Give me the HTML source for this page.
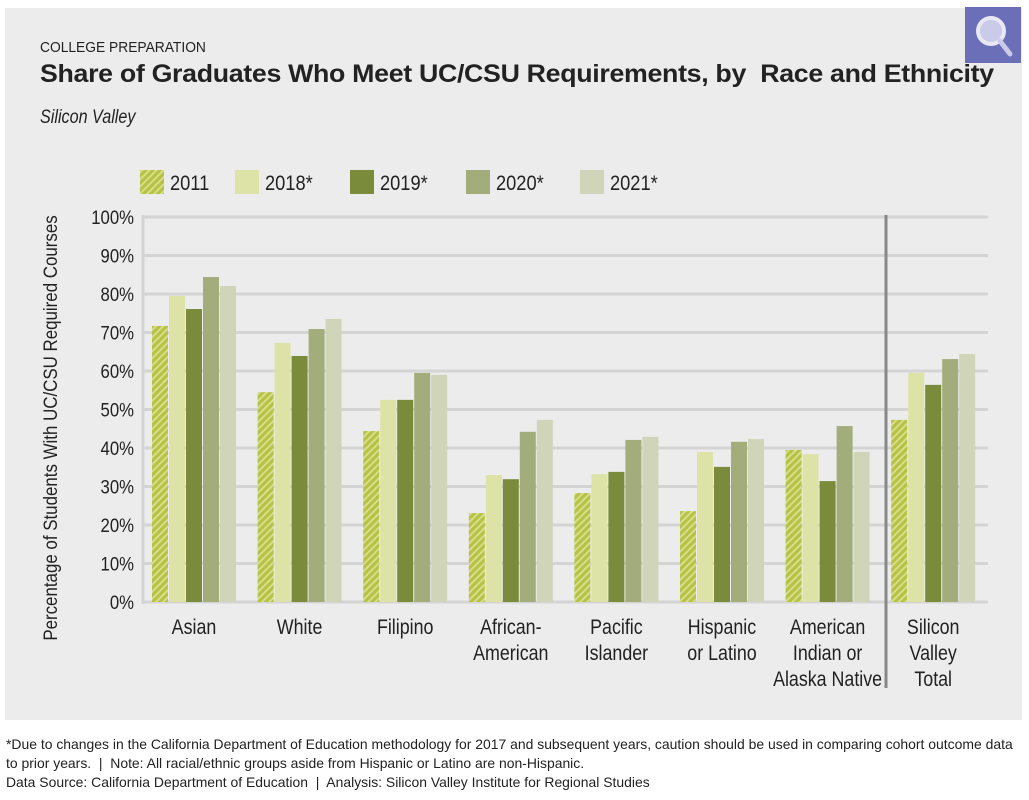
<!DOCTYPE html>
<html><head><meta charset="utf-8"><style>
body{margin:0;width:1029px;height:800px;background:#fff;font-family:"Liberation Sans",sans-serif;overflow:hidden}
#panel{position:absolute;left:5px;top:8px;width:1017px;height:712px;background:#ececec}
.t{position:absolute;white-space:nowrap;color:#222}
</style></head><body>
<div id="panel"></div>
<div class="t" style="left:40px;top:39px;font-size:15px;transform:scaleX(0.92);transform-origin:left">COLLEGE PREPARATION</div>
<div class="t" style="left:40px;top:60px;font-size:25px;font-weight:bold;letter-spacing:-0.3px;transform:scaleX(1.07);transform-origin:left">Share of Graduates Who Meet UC/CSU Requirements, by&nbsp; Race and Ethnicity</div>
<div class="t" style="left:40px;top:107px;font-size:19px;font-style:italic;transform:scaleX(0.85);transform-origin:left">Silicon Valley</div>
<div style="position:absolute;left:965px;top:7px;width:56px;height:56px;background:#6b6fb8">
<svg width="56" height="56"><circle cx="26" cy="24" r="13" fill="#c9cbe8" stroke="#e8e8f6" stroke-width="4"/><line x1="35" y1="34" x2="45" y2="47" stroke="#c9cbe8" stroke-width="5" stroke-linecap="round"/></svg></div>
<svg id="chart" width="1029" height="800" style="position:absolute;left:0;top:0">
<defs><pattern id="hatch" width="5" height="5" patternUnits="userSpaceOnUse" patternTransform="rotate(45)"><rect width="5" height="5" fill="#b5c244"/><rect width="2" height="5" fill="#d6de8a"/></pattern></defs>
</svg>
<div class="t" style="left:6px;top:735px;font-size:14px;line-height:19px;transform:scaleX(0.995);transform-origin:left">*Due to changes in the California Department of Education methodology for 2017 and subsequent years, caution should be used in comparing cohort outcome data<br>to prior years.&nbsp; |&nbsp; Note: All racial/ethnic groups aside from Hispanic or Latino are non-Hispanic.<br>Data Source: California Department of Education&nbsp; |&nbsp; Analysis: Silicon Valley Institute for Regional Studies</div>
<script>
const categories=[["Asian"],["White"],["Filipino"],["African-","American"],["Pacific","Islander"],["Hispanic","or Latino"],["American","Indian or","Alaska Native"],["Silicon","Valley","Total"]];
const seriesNames=["2011","2018*","2019*","2020*","2021*"];
const s2011=[71.7,54.5,44.4,23.1,28.3,23.6,39.5,47.3];
const s2018=[79.5,67.3,52.5,33.0,33.2,39.0,38.4,59.5];
const s2019=[76.1,63.9,52.5,31.9,33.8,35.1,31.4,56.4];
const s2020=[84.4,70.9,59.5,44.2,42.1,41.6,45.7,63.1];
const s2021=[82.1,73.5,59.0,47.3,42.9,42.3,39.0,64.4];
const yTicks=[0,10,20,30,40,50,60,70,80,90,100];
const series=[s2011,s2018,s2019,s2020,s2021];
const colors=["url(#hatch)","#dde3a6","#7a8c3c","#a3ad7c","#d0d4b8"];
const svg=document.getElementById('chart');const NS="http://www.w3.org/2000/svg";
function el(t,a){const e=document.createElementNS(NS,t);for(const k in a)e.setAttribute(k,a[k]);svg.appendChild(e);return e;}
const y0=602,y1=217;const y=v=>y0-(v/100)*(y0-y1);
const gx=i=>152+i*105.6;
const bw=16,bs=17;
el('line',{x1:143,y1:215,x2:143,y2:604,stroke:'#d4d4d4','stroke-width':3});
yTicks.forEach(v=>{
 const g=el('line',{x1:143,x2:988,y1:y(v),y2:y(v),stroke:'#d4d4d4','stroke-width':3});
 
 
 const t=el('text',{x:134,y:y(v)+7,'text-anchor':'end','font-size':19,fill:'#222'});
 t.setAttribute('transform',`translate(134,0) scale(0.88,1) translate(-134,0)`);
 t.textContent=v+'%';
 
 
});
categories.forEach((c,i)=>{
 series.forEach((s,j)=>{
  const r=el('rect',{x:gx(i)+j*bs,y:y(s[i]),width:bw,height:y0-y(s[i]),fill:colors[j]});
  
  
 });
 const cx=gx(i)+42;
 c.forEach((line,k)=>{
  const t=el('text',{x:cx,y:634+k*26,'text-anchor':'middle','font-size':21,fill:'#222',transform:`translate(${cx},0) scale(0.85,1) translate(${-cx},0)`});
  t.textContent=line;
  
  
 });
});
const d=el('line',{x1:886,x2:886,y1:215,y2:688,stroke:'#888','stroke-width':3});


const lx=[140,235,350,466,580];
seriesNames.forEach((n,j)=>{
 const r=el('rect',{x:lx[j],y:170,width:24,height:24,fill:colors[j]});
 
 
 const t=el('text',{x:lx[j]+30,y:190,'font-size':21,fill:'#222',transform:`translate(${lx[j]+30},0) scale(0.87,1) translate(${-(lx[j]+30)},0)`});
 t.textContent=n;
 
 
});
const yt=el('text',{x:0,y:0,'font-size':19,fill:'#222','text-anchor':'middle',transform:'translate(57,428) rotate(-90) scale(0.89,1)'});
yt.textContent='Percentage of Students  With UC/CSU Required Courses';


</script>
</body></html>
